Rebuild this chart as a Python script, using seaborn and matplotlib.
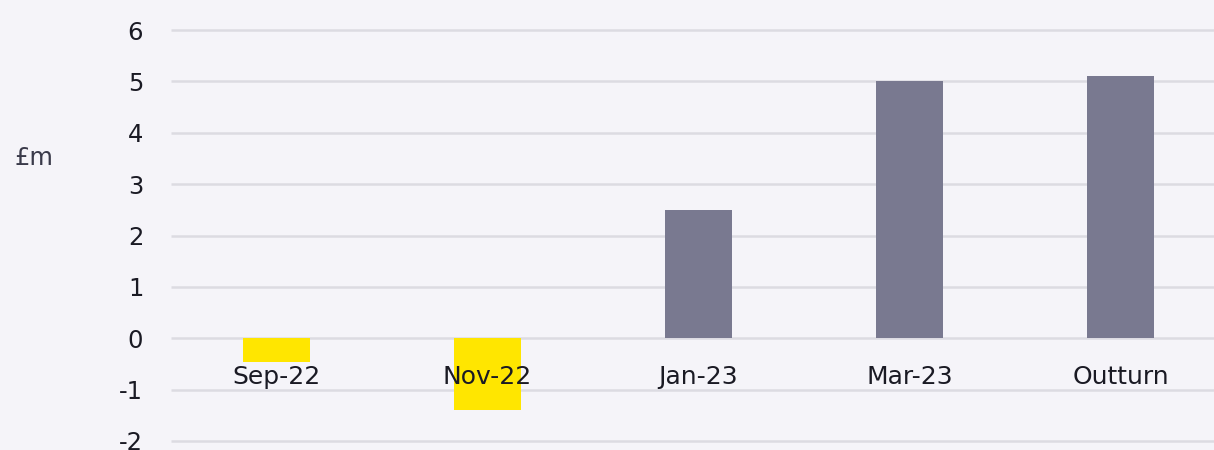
import matplotlib
matplotlib.use("Agg")
import matplotlib.pyplot as plt
import seaborn as sns
import pandas as pd

categories = ["Sep-22", "Nov-22", "Jan-23", "Mar-23", "Outturn"]
values = [-0.47, -1.4, 2.5, 5.0, 5.1]
bar_colors = ["#ffe600", "#ffe600", "#797990", "#797990", "#797990"]
yticks = [-2, -1, 0, 1, 2, 3, 4, 5, 6]

sns.set_theme(style="white")
plt.rcParams['font.family'] = ['DejaVu Sans']

bg = "#f5f4f9"
fig = plt.figure(figsize=(12.14, 4.5), dpi=100, facecolor=bg)
ax = fig.add_axes([171/1214, 9/450, 1055/1214, 411/450])
ax.set_facecolor(bg)

df = pd.DataFrame({"cat": categories, "val": values})
sns.barplot(data=df, x="cat", y="val", hue="cat", palette=bar_colors,
            width=0.32, legend=False, ax=ax, saturation=1, zorder=1,
            linewidth=0, edgecolor="none")

ax.set_ylim(-2, 6)
ax.set_xlim(-0.5, len(categories) - 0.5)
ax.hlines(yticks, -0.5, len(categories) - 0.5, colors="#dcdbe2", linewidth=1.8,
          zorder=0, clip_on=False)
ax.grid(False)
ax.set_axisbelow(False)

for s in ["top", "right", "left"]:
    ax.spines[s].set_visible(False)
ax.spines["bottom"].set_position(("data", 0))
ax.spines["bottom"].set_visible(False)

ax.set_yticks(yticks)
ax.set_yticklabels([str(t) for t in yticks])
ax.tick_params(axis="y", length=0, pad=20, labelsize=17.5, labelcolor="#1a1a24")
ax.tick_params(axis="x", length=0, pad=19, labelsize=18, labelcolor="#1a1a24")
ax.set_xlabel("")
ax.set_ylabel("")

fig.text(14/1214, 1 - 158/450, "£m", fontsize=17.5, color="#3a3a4a", va="center", ha="left")

fig.savefig("out.png", dpi=100, facecolor=bg)
